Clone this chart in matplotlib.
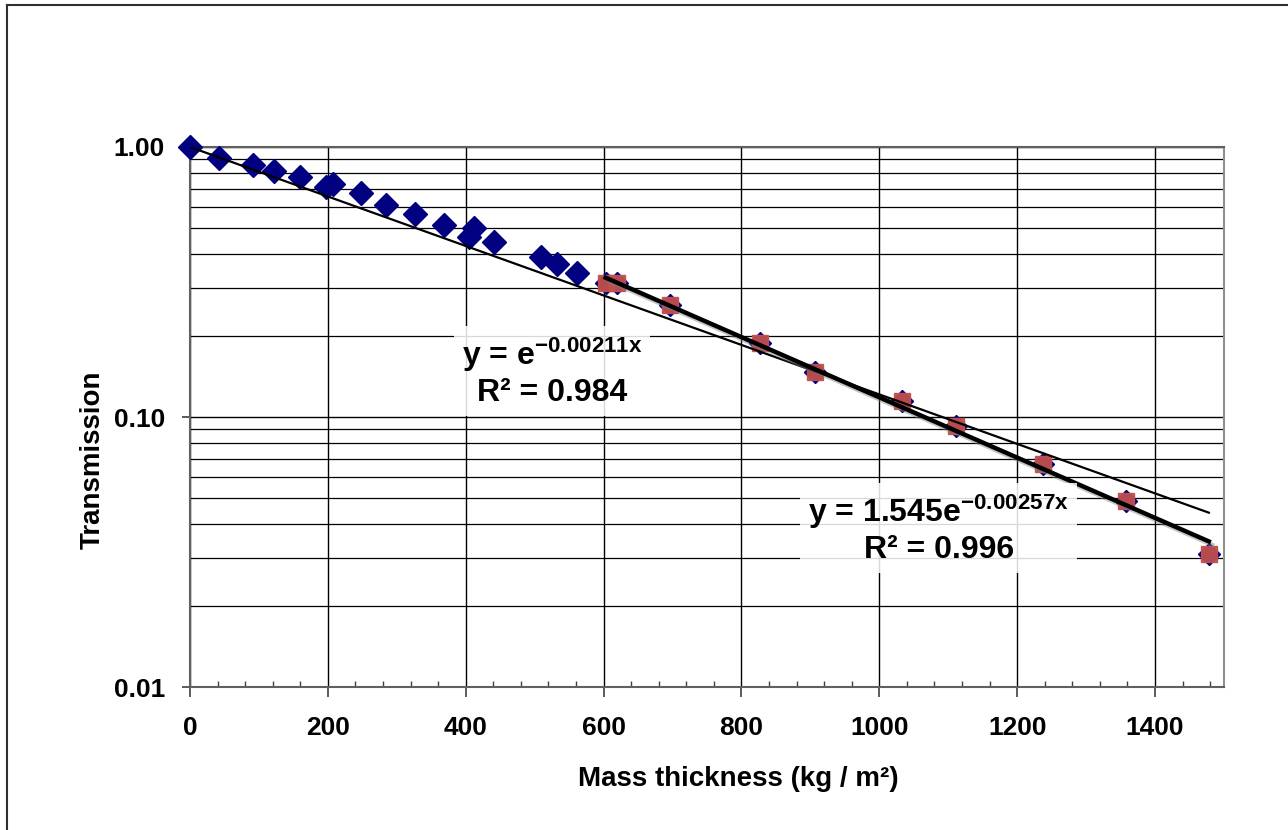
import numpy as np
import matplotlib
matplotlib.use("Agg")
import matplotlib.pyplot as plt
import matplotlib.patheffects as pe
from matplotlib.lines import Line2D
from matplotlib.ticker import MultipleLocator, FixedLocator, FixedFormatter, NullFormatter

plt.rcParams["font.family"] = ["Liberation Sans", "DejaVu Sans"]
plt.rcParams["font.weight"] = "bold"
plt.rcParams["mathtext.fontset"] = "custom"
plt.rcParams["mathtext.rm"] = "Liberation Sans:bold"
plt.rcParams["mathtext.it"] = "Liberation Sans:bold"
plt.rcParams["mathtext.bf"] = "Liberation Sans:bold"

# measured transmission vs. mass thickness (kg/m^2)
mass_low = [0, 42, 92, 122, 160, 198, 208, 248, 285, 326, 368, 405, 412, 441, 509, 533, 562]
trans_low = [1.00, 0.913, 0.858, 0.815, 0.776, 0.713, 0.729, 0.677, 0.610, 0.563, 0.514,
             0.465, 0.500, 0.444, 0.393, 0.369, 0.341]
# points used for the second (deep) fit
mass_high = [603, 619, 697, 827, 906, 1033, 1111, 1238, 1358, 1478]
trans_high = [0.314, 0.314, 0.259, 0.188, 0.147, 0.115, 0.093, 0.067, 0.049, 0.031]

# trendline coefficients
fit_all_k = 0.00211
fit_all_r2 = 0.984
fit_deep_a = 1.545
fit_deep_k = 0.00257
fit_deep_r2 = 0.996

x_ticks = [0, 200, 400, 600, 800, 1000, 1200, 1400]
y_ticks = [0.01, 0.1, 1.0]
y_tick_labels = ["0.01", "0.10", "1.00"]

fig = plt.figure(figsize=(12.88, 8.30), dpi=100)
ax = fig.add_axes([190 / 1288, 1 - 687 / 830, 1034 / 1288, 540 / 830])

ax.set_yscale("log")
ax.set_xlim(0, 1500)
ax.set_ylim(0.01, 1.0)

ax.xaxis.set_major_locator(FixedLocator(x_ticks))
ax.xaxis.set_minor_locator(MultipleLocator(40))
ax.yaxis.set_major_locator(FixedLocator(y_ticks))
ax.yaxis.set_major_formatter(FixedFormatter(y_tick_labels))
minor_y = [m * d for d in (0.01, 0.1) for m in range(2, 10)]
ax.yaxis.set_minor_locator(FixedLocator(minor_y))
ax.yaxis.set_minor_formatter(NullFormatter())

ax.grid(True, which="major", axis="both", color="black", lw=1.0, zorder=0)
ax.grid(True, which="minor", axis="y", color="black", lw=0.9, zorder=0)
ax.set_axisbelow(True)

ax.tick_params(axis="x", which="major", direction="out", length=7, width=1.2,
               labelsize=19, pad=14, color="#404040")
ax.tick_params(axis="x", which="minor", direction="in", length=4, width=1.0, color="#404040")
ax.tick_params(axis="y", which="major", direction="out", length=6, width=1.2,
               labelsize=19, pad=12, color="#404040")
ax.tick_params(axis="y", which="minor", length=0)

for s in ax.spines.values():
    s.set_color("#606060")
    s.set_linewidth(1.5)
ax.spines["right"].set_color("#909090")

# data points
ax.plot(mass_low, trans_low, ls="none", marker="D", ms=12.5, color="#000080",
        mec="#000080", zorder=3, clip_on=False)
ax.plot(mass_high, trans_high, ls="none", marker="D", ms=11.5, color="#000080",
        mec="#000080", zorder=3, clip_on=False)
ax.plot(mass_high, trans_high, ls="none", marker="s", ms=11, color="#C0504D",
        mec="#C0504D", alpha=0.95, zorder=4, clip_on=False)

# exponential trendlines
xa = np.linspace(0, 1478, 300)
ax.plot(xa, np.exp(-fit_all_k * xa), color="black", lw=1.6, zorder=5)

xd = np.linspace(603, 1478, 300)
ax.plot(xd, fit_deep_a * np.exp(-fit_deep_k * xd), color="black", lw=3.2, zorder=6,
        path_effects=[pe.SimpleLineShadow(offset=(2.5, -2.5), shadow_color="#808080", alpha=0.45),
                      pe.Normal()])

box = dict(boxstyle="square,pad=0.25", fc="white", ec="none", alpha=0.85)
ax.text(525, 0.147, f"y = e$^{{-{fit_all_k:.5f}x}}$\nR² = {fit_all_r2:.3f}",
        ha="center", va="center", fontsize=23, fontweight="bold", linespacing=1.15,
        bbox=box, zorder=7)
ax.text(1086, 0.0385, f"y = {fit_deep_a:.3f}e$^{{-{fit_deep_k:.5f}x}}$\nR² = {fit_deep_r2:.3f}",
        ha="center", va="center", fontsize=23, fontweight="bold", linespacing=1.15,
        bbox=box, zorder=7)

ax.set_xlabel("Mass thickness (kg / m²)", fontsize=20, fontweight="bold")
ax.xaxis.set_label_coords(0.53, -0.17)
ax.xaxis.label.set_va("center")
ax.set_ylabel("Transmission", fontsize=20, fontweight="bold")
ax.yaxis.set_label_coords(-0.094, 0.42)
ax.yaxis.label.set_va("center")

# outer chart frame (top and left edges)
fig.add_artist(Line2D([7 / 1288, 1.0], [1 - 5 / 830, 1 - 5 / 830], color="#303030", lw=1.5))
fig.add_artist(Line2D([7 / 1288, 7 / 1288], [0.0, 1 - 5 / 830], color="#303030", lw=1.5))

fig.savefig("out.png", dpi=100)
